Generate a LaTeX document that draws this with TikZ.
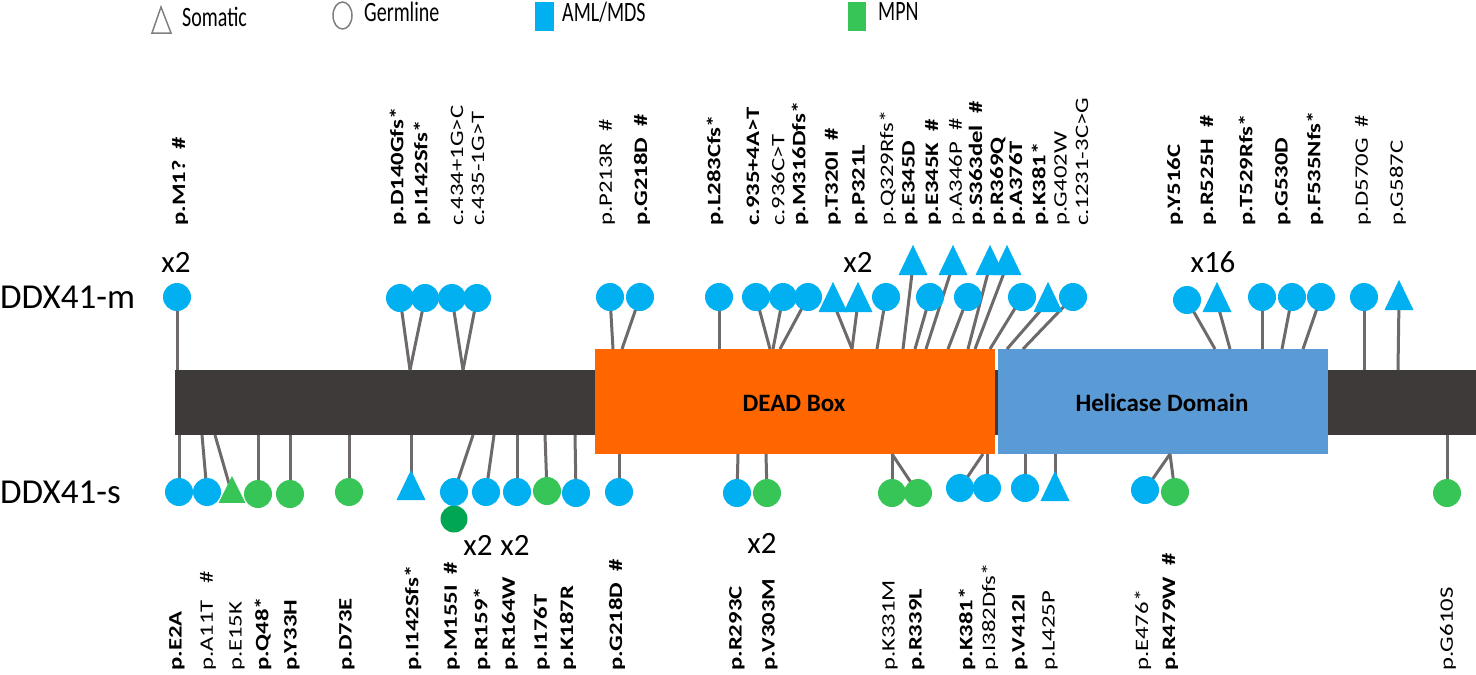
\documentclass[tikz,border=0pt]{standalone}
\usepackage{fontspec}
\setmainfont{Carlito}
\usepackage{graphicx}
\usetikzlibrary{shapes.geometric}
\definecolor{cblue}{RGB}{0,176,240}
\definecolor{cgreen}{RGB}{55,197,88}
\definecolor{cdgreen}{RGB}{0,166,81}
\definecolor{cbar}{RGB}{62,58,58}
\definecolor{corange}{RGB}{255,102,0}
\definecolor{chel}{RGB}{91,155,213}
\definecolor{cstem}{RGB}{110,106,106}
\definecolor{clegend}{RGB}{127,127,127}
\pgfdeclarelayer{bg}\pgfdeclarelayer{mid}\pgfsetlayers{bg,mid,main}
\newcommand\vstr[1]{\scalebox{1.3}[1]{#1}}
\newcommand\hstr[1]{\scalebox{1}[1.4]{#1}}
\begin{document}
\begin{tikzpicture}[x=1pt,y=-1pt,
  mb/.style={circle, fill=cblue, minimum size=28pt, inner sep=0pt, outer sep=0pt},
  mg/.style={circle, fill=cgreen, minimum size=28pt, inner sep=0pt, outer sep=0pt},
  mdg/.style={circle, fill=cdgreen, minimum size=27pt, inner sep=0pt, outer sep=0pt},
  tb/.style={regular polygon, regular polygon sides=3, fill=cblue, minimum size=33.5pt, inner sep=0pt, outer sep=0pt, yscale=1.2},
  tg/.style={regular polygon, regular polygon sides=3, fill=cgreen, minimum size=31pt, inner sep=0pt, outer sep=0pt, yscale=1.15},
  stem/.style={draw=cstem, line width=3pt},
  labr/.style={rotate=90, anchor=west, inner sep=0pt, font=\fontsize{19}{23}\selectfont},
  labb/.style={labr, font=\fontsize{19}{23}\selectfont\bfseries},
  cnt/.style={inner sep=0pt, font=\fontsize{31}{36}\selectfont},
  leg/.style={anchor=west, inner sep=0pt, font=\fontsize{20}{24}\selectfont},
  dom/.style={inner sep=0pt, font=\fontsize{25}{30}\selectfont\bfseries},
  side/.style={anchor=west, inner sep=0pt, font=\fontsize{35}{40}\selectfont}]
\useasboundingbox (0,0) rectangle (1476,675);

% legend
\draw[clegend, line width=1.5pt] (161,7) -- (152,33) -- (171,33) -- cycle;
\node[leg] (lsom) at (182,17) {\hstr{Somatic}};
\draw[clegend, line width=1.5pt] (342.5,15.5) ellipse [x radius=9.5, y radius=13.5];
\node[leg] (lger) at (364,12) {\hstr{Germline}};
\fill[cblue] (535,2) rectangle (554,31);
\node[leg] (laml) at (562,12) {\hstr{AML/MDS}};
\fill[cgreen] (848,2) rectangle (866,31);
\node[leg] (lmpn) at (878,12) {\hstr{MPN}};

% protein bar and domains
\begin{pgfonlayer}{bg}
\fill[cbar] (175,370) rectangle (1476,435);
\fill[corange] (595,349) rectangle (995,454);
\fill[chel] (998,349) rectangle (1328,454);
\end{pgfonlayer}
\node[dom] (dead) at (794,403) {DEAD Box};
\node[dom] (heli) at (1162,403) {Helicase Domain};

\node[side] (ddxm) at (0,297) {DDX41-m};
\node[side] (ddxs) at (0,492) {DDX41-s};

% top labels
\node[labb] (tl1) at (180,226) {\vstr{p.M1?~~\#}};
\node[labb] (tl2) at (398,226) {\vstr{p.D140Gfs*}};
\node[labb] (tl3) at (422,226) {\vstr{p.I142Sfs*}};
\node[labr] (tl4) at (457,226) {\vstr{c.434+1G>C}};
\node[labr] (tl5) at (478,226) {\vstr{c.435-1G>T}};
\node[labr] (tl6) at (607,226) {\vstr{p.P213R~~\#}};
\node[labb] (tl7) at (642,226) {\vstr{p.G218D~~\#}};
\node[labb] (tl8) at (715,226) {\vstr{p.L283Cfs*}};
\node[labb] (tl9) at (753,226) {\vstr{c.935+4A>T}};
\node[labr] (tl10) at (778,226) {\vstr{c.936C>T}};
\node[labb] (tl11) at (800,226) {\vstr{p.M316Dfs*}};
\node[labb] (tl12) at (833,226) {\vstr{p.T320I~~\#}};
\node[labb] (tl13) at (860,226) {\vstr{p.P321L}};
\node[labr] (tl14) at (888,226) {\vstr{p.Q329Rfs*}};
\node[labb] (tl15) at (910,226) {\vstr{p.E345D}};
\node[labb] (tl16) at (933,226) {\vstr{p.E345K~~\#}};
\node[labr] (tl17) at (957,226) {\vstr{p.A346P~~\#}};
\node[labb] (tl18) at (977,226) {\vstr{p.S363del~~\#}};
\node[labb] (tl19) at (998,226) {\vstr{p.R369Q}};
\node[labb] (tl20) at (1017,226) {\vstr{p.A376T}};
\node[labb] (tl21) at (1040,226) {\vstr{p.K381*}};
\node[labr] (tl22) at (1062,226) {\vstr{p.G402W}};
\node[labr] (tl23) at (1082,226) {\vstr{c.1231-3C>G}};
\node[labb] (tl24) at (1175,226) {\vstr{p.Y516C}};
\node[labb] (tl25) at (1208,226) {\vstr{p.R525H~~\#}};
\node[labb] (tl26) at (1247,226) {\vstr{p.T529Rfs*}};
\node[labb] (tl27) at (1283,226) {\vstr{p.G530D}};
\node[labb] (tl28) at (1315,226) {\vstr{p.F535Nfs*}};
\node[labr] (tl29) at (1363,226) {\vstr{p.D570G~~\#}};
\node[labr] (tl30) at (1398,226) {\vstr{p.G587C}};

% bottom labels
\node[labb] (bl1) at (177,671) {\vstr{p.E2A}};
\node[labr] (bl2) at (208,671) {\vstr{p.A11T~~~\#}};
\node[labr] (bl3) at (237,671) {\vstr{p.E15K}};
\node[labb] (bl4) at (263,671) {\vstr{p.Q48*}};
\node[labb] (bl5) at (292,671) {\vstr{p.Y33H}};
\node[labb] (bl6) at (347,671) {\vstr{p.D73E}};
\node[labb] (bl7) at (413,671) {\vstr{p.I142Sfs*}};
\node[labb] (bl8) at (452,671) {\vstr{p.M155I~~\#}};
\node[labb] (bl9) at (482,671) {\vstr{p.R159*}};
\node[labb] (bl10) at (510,671) {\vstr{p.R164W}};
\node[labb] (bl11) at (542,671) {\vstr{p.I176T}};
\node[labb] (bl12) at (568,671) {\vstr{p.K187R}};
\node[labb] (bl13) at (617,671) {\vstr{p.G218D~~\#}};
\node[labb] (bl14) at (737,671) {\vstr{p.R293C}};
\node[labb] (bl15) at (770,671) {\vstr{p.V303M}};
\node[labr] (bl16) at (890,671) {\vstr{p.K331M}};
\node[labb] (bl17) at (917,671) {\vstr{p.R339L}};
\node[labb] (bl18) at (967,671) {\vstr{p.K381*}};
\node[labr] (bl19) at (990,671) {\vstr{p.I382Dfs*}};
\node[labb] (bl20) at (1020,671) {\vstr{p.V412I}};
\node[labr] (bl21) at (1050,671) {\vstr{p.L425P}};
\node[labr] (bl22) at (1143,671) {\vstr{p.E476*}};
\node[labb] (bl23) at (1170,671) {\vstr{p.R479W~~\#}};
\node[labr] (bl24) at (1448,671) {\vstr{p.G610S}};

% counts
\node[cnt] (c1) at (176,262) {x2};
\node[cnt] (c2) at (858,262) {x2};
\node[cnt] (c3) at (1213,262) {x16};
\node[cnt] (c4) at (478,545) {x2};
\node[cnt] (c5) at (515,545) {x2};
\node[cnt] (c6) at (762,543) {x2};

% top markers
\node[mb] (t1) at (177,297) {};
\node[mb] (t2) at (400,298) {};
\node[mb] (t3) at (425,298) {};
\node[mb] (t4) at (452,298) {};
\node[mb] (t5) at (477,298) {};
\node[mb] (t6) at (610,297) {};
\node[mb] (t7) at (640,297) {};
\node[mb] (t8) at (719,297) {};
\node[mb] (t9) at (756,297) {};
\node[mb] (t10) at (783,297) {};
\node[mb] (t11) at (808,297) {};
\node[tb] (t12) at (833,302) {};
\node[tb] (t13) at (858,302) {};
\node[mb] (t14) at (886,297) {};
\node[tb] (t15) at (913,265) {};
\node[mb] (t16) at (930,297) {};
\node[tb] (t17) at (953,265) {};
\node[mb] (t18) at (968,297) {};
\node[tb] (t19) at (990,265) {};
\node[tb] (t20) at (1007,265) {};
\node[mb] (t21) at (1022,297) {};
\node[tb] (t22) at (1048,302) {};
\node[mb] (t23) at (1073,297) {};
\node[mb] (t24) at (1187,300) {};
\node[tb] (t25) at (1217,302) {};
\node[mb] (t26) at (1262,297) {};
\node[mb] (t27) at (1292,297) {};
\node[mb] (t28) at (1321,297) {};
\node[mb] (t29) at (1364,297) {};
\node[tb] (t30) at (1399,300) {};

% bottom markers
\node[mb] (b1) at (179,492) {};
\node[mb] (b2) at (207,492) {};
\node[tg] (b3) at (232,494) {};
\node[mg] (b4) at (258,494) {};
\node[mg] (b5) at (290,494) {};
\node[mg] (b6) at (349,492) {};
\node[tb] (b7) at (411,490) {};
\node[mdg] (b8x) at (454,519) {};
\node[mb] (b8) at (454,492) {};
\node[mb] (b9) at (486,492) {};
\node[mb] (b10) at (517,492) {};
\node[mg] (b11) at (547,491) {};
\node[mb] (b12) at (576,493) {};
\node[mb] (b13) at (619,492) {};
\node[mb] (b14) at (737,493) {};
\node[mg] (b15) at (767,493) {};
\node[mg] (b16) at (892,493) {};
\node[mg] (b17) at (918,493) {};
\node[mb] (b18) at (960,488) {};
\node[mb] (b19) at (987,488) {};
\node[mb] (b20) at (1025,488) {};
\node[tb] (b21) at (1055,491) {};
\node[mb] (b22) at (1145,490) {};
\node[mg] (b23) at (1175,492) {};
\node[mg] (b24) at (1447,493) {};

% stem anchor points
\coordinate (st1) at (177,370);
\coordinate (st2) at (410,370);
\coordinate (st4) at (463,370);
\coordinate (st6) at (613,349);
\coordinate (st7) at (622,349);
\coordinate (st8) at (719,349);
\coordinate (st9) at (770,349);
\coordinate (st10) at (773,349);
\coordinate (st11) at (780,349);
\coordinate (st12) at (852,349);
\coordinate (st14) at (877,349);
\coordinate (st15) at (903,349);
\coordinate (st16) at (915,349);
\coordinate (st17) at (926,349);
\coordinate (st18) at (948,349);
\coordinate (st19) at (968,349);
\coordinate (st20) at (975,349);
\coordinate (st21) at (990,349);
\coordinate (st22) at (1007,349);
\coordinate (st23) at (1023,349);
\coordinate (st24) at (1215,349);
\coordinate (st25) at (1230,349);
\coordinate (st26) at (1262,349);
\coordinate (st27) at (1282,349);
\coordinate (st28) at (1303,349);
\coordinate (st29) at (1364,370);
\coordinate (st30) at (1398,370);

\coordinate (sb1) at (179,435);
\coordinate (sb2) at (202,435);
\coordinate (sb3) at (215,435);
\coordinate (sb4) at (258,435);
\coordinate (sb5) at (290,435);
\coordinate (sb6) at (349,435);
\coordinate (sb7) at (411,435);
\coordinate (sb8) at (473,435);
\coordinate (sb9) at (494,435);
\coordinate (sb10) at (517,435);
\coordinate (sb11) at (545,435);
\coordinate (sb12) at (575,435);
\coordinate (sb13) at (619,454);
\coordinate (sb14) at (738,454);
\coordinate (sb15) at (766,454);
\coordinate (sb16) at (892,454);
\coordinate (sb18) at (983,454);
\coordinate (sb19) at (987,454);
\coordinate (sb20) at (1025,454);
\coordinate (sb21) at (1055,454);
\coordinate (sb22) at (1170,454);
\coordinate (sb24) at (1447,435);

\begin{pgfonlayer}{mid}
\draw[stem] (st1) -- (t1.center);
\draw[stem] (st2) -- (t2.center);
\draw[stem] (st2) -- (t3.center);
\draw[stem] (st4) -- (t4.center);
\draw[stem] (st4) -- (t5.center);
\draw[stem] (st6) -- (t6.center);
\draw[stem] (st7) -- (t7.center);
\draw[stem] (st8) -- (t8.center);
\draw[stem] (st9) -- (t9.center);
\draw[stem] (st10) -- (t10.center);
\draw[stem] (st11) -- (t11.center);
\draw[stem] (st12) -- (t12.center);
\draw[stem] (st12) -- (t13.center);
\draw[stem] (st14) -- (t14.center);
\draw[stem] (st15) -- (t15.center);
\draw[stem] (st16) -- (t16.center);
\draw[stem] (st17) -- (t17.center);
\draw[stem] (st18) -- (t18.center);
\draw[stem] (st19) -- (t19.center);
\draw[stem] (st20) -- (t20.center);
\draw[stem] (st21) -- (t21.center);
\draw[stem] (st22) -- (t22.center);
\draw[stem] (st23) -- (t23.center);
\draw[stem] (st24) -- (t24.center);
\draw[stem] (st25) -- (t25.center);
\draw[stem] (st26) -- (t26.center);
\draw[stem] (st27) -- (t27.center);
\draw[stem] (st28) -- (t28.center);
\draw[stem] (st29) -- (t29.center);
\draw[stem] (st30) -- (t30.center);

\draw[stem] (sb1) -- (b1.center);
\draw[stem] (sb2) -- (b2.center);
\draw[stem] (sb3) -- (b3.center);
\draw[stem] (sb4) -- (b4.center);
\draw[stem] (sb5) -- (b5.center);
\draw[stem] (sb6) -- (b6.center);
\draw[stem] (sb7) -- (b7.center);
\draw[stem] (sb8) -- (b8.center);
\draw[stem] (sb9) -- (b9.center);
\draw[stem] (sb10) -- (b10.center);
\draw[stem] (sb11) -- (b11.center);
\draw[stem] (sb12) -- (b12.center);
\draw[stem] (sb13) -- (b13.center);
\draw[stem] (sb14) -- (b14.center);
\draw[stem] (sb15) -- (b15.center);
\draw[stem] (sb16) -- (b16.center);
\draw[stem] (sb16) -- (b17.center);
\draw[stem] (sb18) -- (b18.center);
\draw[stem] (sb19) -- (b19.center);
\draw[stem] (sb20) -- (b20.center);
\draw[stem] (sb21) -- (b21.center);
\draw[stem] (sb22) -- (b22.center);
\draw[stem] (sb22) -- (b23.center);
\draw[stem] (sb24) -- (b24.center);
\end{pgfonlayer}
\end{tikzpicture}
\end{document}
